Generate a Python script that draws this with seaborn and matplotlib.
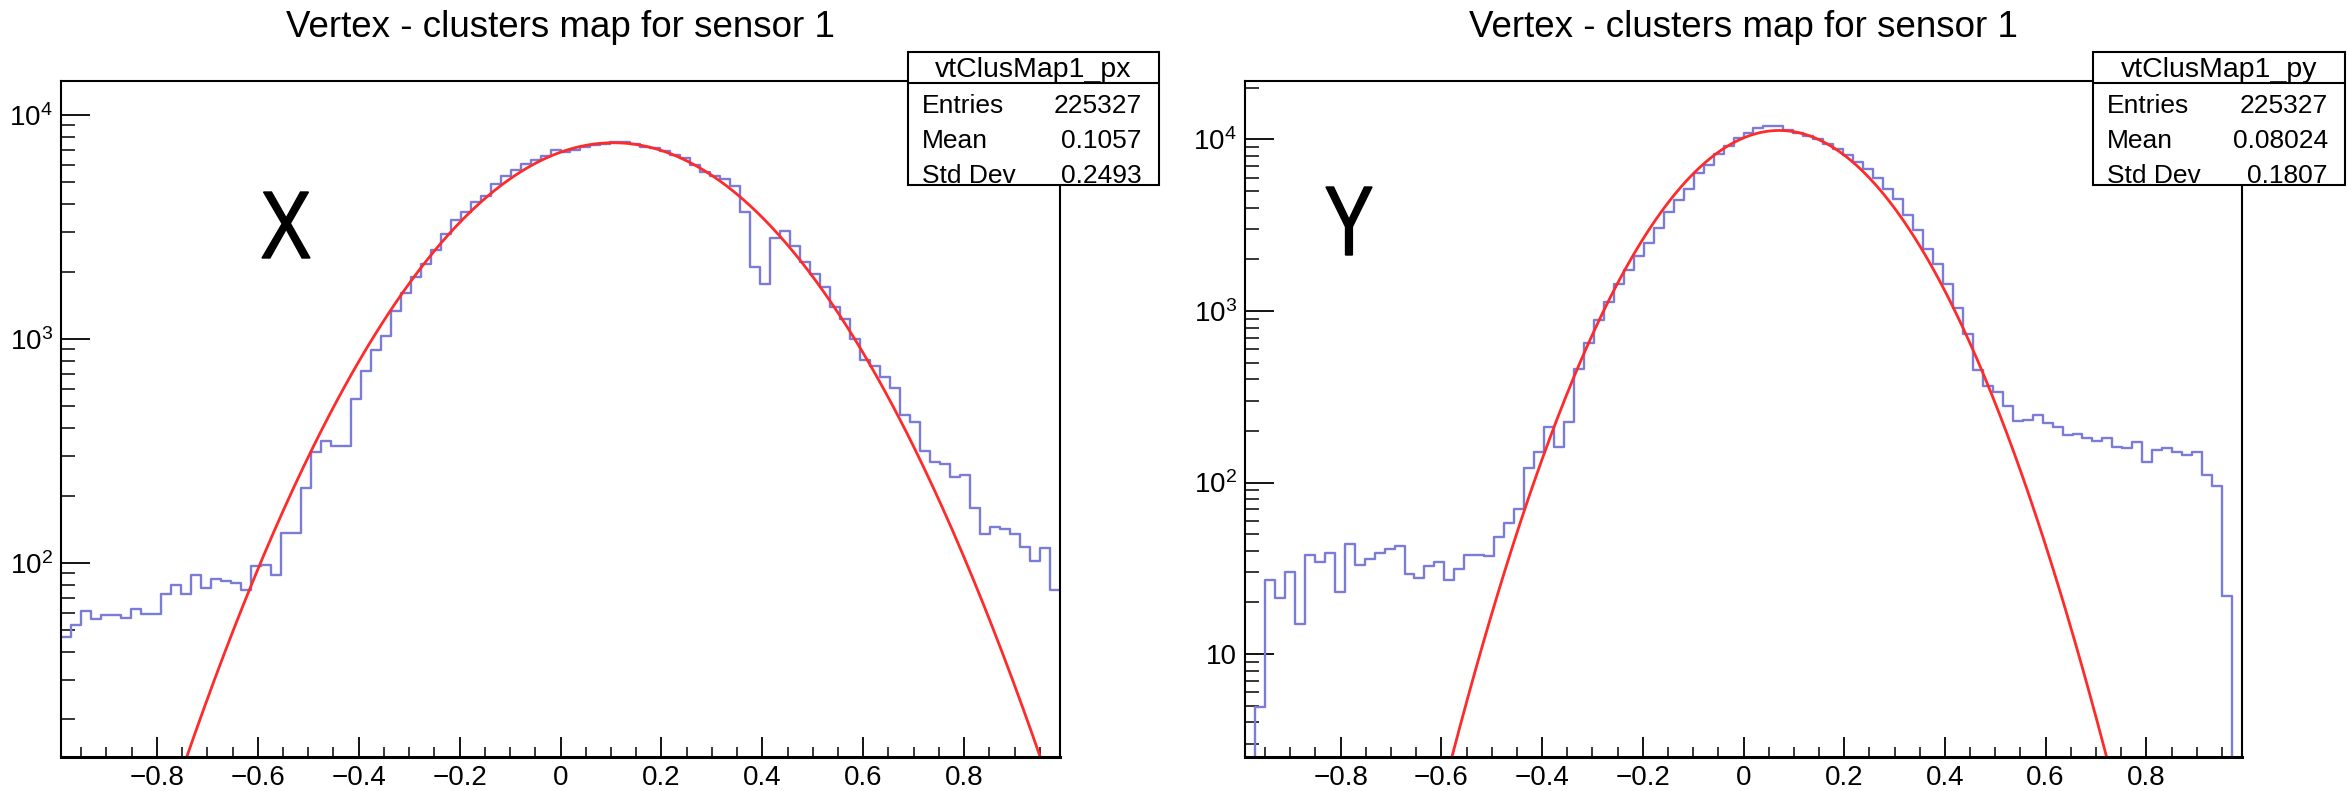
import numpy as np
import pandas as pd
import seaborn as sns
import matplotlib.pyplot as plt
from matplotlib.patches import Rectangle, PathPatch
from matplotlib.lines import Line2D
from matplotlib.textpath import TextPath
from matplotlib.font_manager import FontProperties
from matplotlib.transforms import Affine2D, IdentityTransform
from matplotlib.ticker import MultipleLocator, LogLocator, FuncFormatter, NullFormatter

sns.set_style("white")
plt.rcParams['font.family'] = ['Liberation Sans', 'DejaVu Sans']
plt.rcParams['mathtext.fontset'] = 'custom'
plt.rcParams['mathtext.rm'] = 'Liberation Sans'
plt.rcParams['mathtext.default'] = 'regular'
plt.rcParams['text.color'] = 'black'

# binning of both histograms
bin_lo, bin_hi, n_bins = -0.99, 0.99, 100

# bin contents (log scale)
counts_px = [
    46.9, 52.9, 61.3, 56.1, 58.6, 58.6, 56.8, 62.1, 59.2, 59.2,
    72.3, 80.1, 72.3, 88.3, 77.6, 84.4, 82.9, 81.2, 75.9, 97.0,
    97.8, 88.7, 136.5, 136.5, 216, 314, 352, 332, 332, 542,
    718, 897, 1034, 1338, 1599, 1886, 2154, 2495, 2942, 3407,
    3674, 4071, 4331, 4908, 5316, 5656, 6075, 6324, 6552, 7003,
    6849, 7003, 7163, 7323, 7456, 7590, 7556, 7456, 7163, 7099,
    6943, 6641, 6411, 5994, 5557, 5364, 5176, 4842, 3674, 2088,
    1764, 2814, 3035, 2597, 2203, 1953, 1702, 1393, 1224, 1002,
    809, 757, 677, 606, 460, 428, 315, 282, 278, 241,
    246, 176, 134, 144, 142, 134, 118, 102, 117, 76,
]
counts_py = [
    2, 4.91, 27.1, 21.1, 29.9, 15.0, 37.7, 34.6, 38.8, 23.0,
    43.6, 33.0, 36.0, 38.8, 41.2, 42.4, 29.4, 27.9, 32.6, 34.6,
    27.1, 31.3, 37.7, 37.7, 37.1, 48.2, 58.4, 70.3, 122.3, 150.9,
    210, 161.8, 226.8, 456, 647, 886, 1126, 1437, 1732, 2099,
    2500, 3065, 3758, 4424, 5177, 6348, 7134, 8250, 9165, 10235,
    10910, 11705, 11910, 11910, 11370, 10910, 10420, 10000, 9380, 8745,
    8155, 7430, 6730, 5990, 5177, 4476, 3651, 2977, 2291, 1868,
    1437, 1043, 736, 454, 366, 339, 278, 227, 230, 248,
    223, 210, 189, 193, 182, 175, 182, 162, 159, 172,
    132, 155, 159, 150, 144, 151, 111, 96, 21.7, 1,
]

# gaussian fit parameters: constant, mean, sigma
fit_px = (7520, 0.105, 0.238)
fit_py = (11290, 0.071, 0.1585)

stats_px = [('Entries', '225327'), ('Mean', '0.1057'), ('Std Dev', '0.2493')]
stats_py = [('Entries', '225327'), ('Mean', '0.08024'), ('Std Dev', '0.1807')]

title = 'Vertex - clusters map for sensor 1'
hist_col = '#7b7bd8'
fit_col = '#ff2a2a'

W, H = 2348, 791
fig = plt.figure(figsize=(W / 100, H / 100), dpi=100)


def fx(px):
    return px / W


def fy(py):
    return 1 - py / H


def y_label(v, pos):
    e = int(round(np.log10(v)))
    if e == 1:
        return '10'
    return '$10^{%d}$' % e


def x_label(v, pos):
    if abs(v) < 1e-9:
        return '0'
    return f'{v:g}'.replace('-', '\u2212')


def big_letter(ch, box):
    # glyph squeezed into a pixel box (left, top, right, bottom)
    l, t, r, b = box
    path = TextPath((0, 0), ch, size=100, prop=FontProperties(family='Liberation Sans'))
    ext = path.get_extents()
    tr = (Affine2D().translate(-ext.x0, -ext.y0)
          .scale((r - l) / ext.width, (b - t) / ext.height)
          .translate(l, H - b))
    patch = PathPatch(path, facecolor='black', edgecolor='black', linewidth=1.0)
    patch.set_transform(tr + IdentityTransform())
    fig.add_artist(patch)


edges = np.linspace(bin_lo, bin_hi, n_bins + 1)
centers = 0.5 * (edges[:-1] + edges[1:])

panels = [
    dict(name='vtClusMap1_px', counts=counts_px, fit=fit_px, stats=stats_px,
         letter='X', letter_box=(262, 192, 310, 258), rect=(61, 81, 1060, 757),
         ylim=(13.6, 14190), box=(908, 52, 1159, 185)),
    dict(name='vtClusMap1_py', counts=counts_py, fit=fit_py, stats=stats_py,
         letter='Y', letter_box=(1326, 187, 1372, 255), rect=(1245, 81, 2242, 757),
         ylim=(2.51, 21930), box=(2093, 52, 2345, 185)),
]

for p in panels:
    x0, y0, x1, y1 = p['rect']
    ax = fig.add_axes([fx(x0), fy(y1), fx(x1) - fx(x0), fy(y0) - fy(y1)])

    df = pd.DataFrame({'x': centers, 'n': p['counts']})
    sns.histplot(data=df, x='x', weights='n', bins=n_bins, binrange=(bin_lo, bin_hi),
                 element='step', fill=False, color=hist_col, linewidth=1.7, ax=ax)

    A, mu, sig = p['fit']
    xs = np.linspace(bin_lo, bin_hi, 400)
    ys = A * np.exp(-0.5 * ((xs - mu) / sig) ** 2)
    sns.lineplot(x=xs, y=ys, color=fit_col, linewidth=2, ax=ax)

    ax.set_yscale('log')
    ax.set_xlim(bin_lo, bin_hi)
    ax.set_ylim(*p['ylim'])
    ax.set_xlabel('')
    ax.set_ylabel('')

    ax.xaxis.set_major_locator(MultipleLocator(0.2))
    ax.xaxis.set_minor_locator(MultipleLocator(0.05))
    ax.xaxis.set_major_formatter(FuncFormatter(x_label))
    ax.yaxis.set_major_locator(LogLocator(base=10, numticks=10))
    ax.yaxis.set_minor_locator(LogLocator(base=10, subs=np.arange(2, 10), numticks=100))
    ax.yaxis.set_major_formatter(FuncFormatter(y_label))
    ax.yaxis.set_minor_formatter(NullFormatter())

    ax.tick_params(axis='x', which='major', direction='in', length=14.4, width=1.3,
                   labelsize=20, pad=6, colors='black', top=False, bottom=True)
    ax.tick_params(axis='x', which='minor', direction='in', length=7.2, width=1.3,
                   top=False, bottom=True)
    ax.tick_params(axis='y', which='major', direction='in', length=21, width=1.3,
                   labelsize=20, pad=6, colors='black', left=True, right=False)
    ax.tick_params(axis='y', which='minor', direction='in', length=10, width=1.3,
                   left=True, right=False)

    for side, sp in ax.spines.items():
        sp.set_visible(True)
        sp.set_color('black')
        sp.set_linewidth(1.5)
    ax.spines['bottom'].set_linewidth(2.2)

    # title above the frame
    fig.text(fx((x0 + x1) / 2), fy(37), title, ha='center', va='baseline',
             fontsize=26.5)

    # big axis letter
    big_letter(p['letter'], p['letter_box'])

    # stats box
    bx0, by0, bx1, by1 = p['box']
    fig.add_artist(Rectangle((fx(bx0), fy(by1)), fx(bx1) - fx(bx0), fy(by0) - fy(by1),
                             transform=fig.transFigure, facecolor='white',
                             edgecolor='black', linewidth=1.5, zorder=10))
    fig.add_artist(Line2D([fx(bx0), fx(bx1)], [fy(by0 + 31), fy(by0 + 31)],
                          transform=fig.transFigure, color='black', linewidth=1.5,
                          zorder=11))
    fig.text(fx((bx0 + bx1) / 2), fy(by0 + 25), p['name'], ha='center',
             va='baseline', fontsize=20.5, zorder=12)
    for (lab, val), base in zip(p['stats'], [113, 148, 183]):
        fig.text(fx(bx0 + 14), fy(base), lab, ha='left', va='baseline',
                 fontsize=19, zorder=12)
        fig.text(fx(bx1 - 17), fy(base), val, ha='right', va='baseline',
                 fontsize=19, zorder=12)

fig.savefig('out.png', dpi=100, facecolor='white')
